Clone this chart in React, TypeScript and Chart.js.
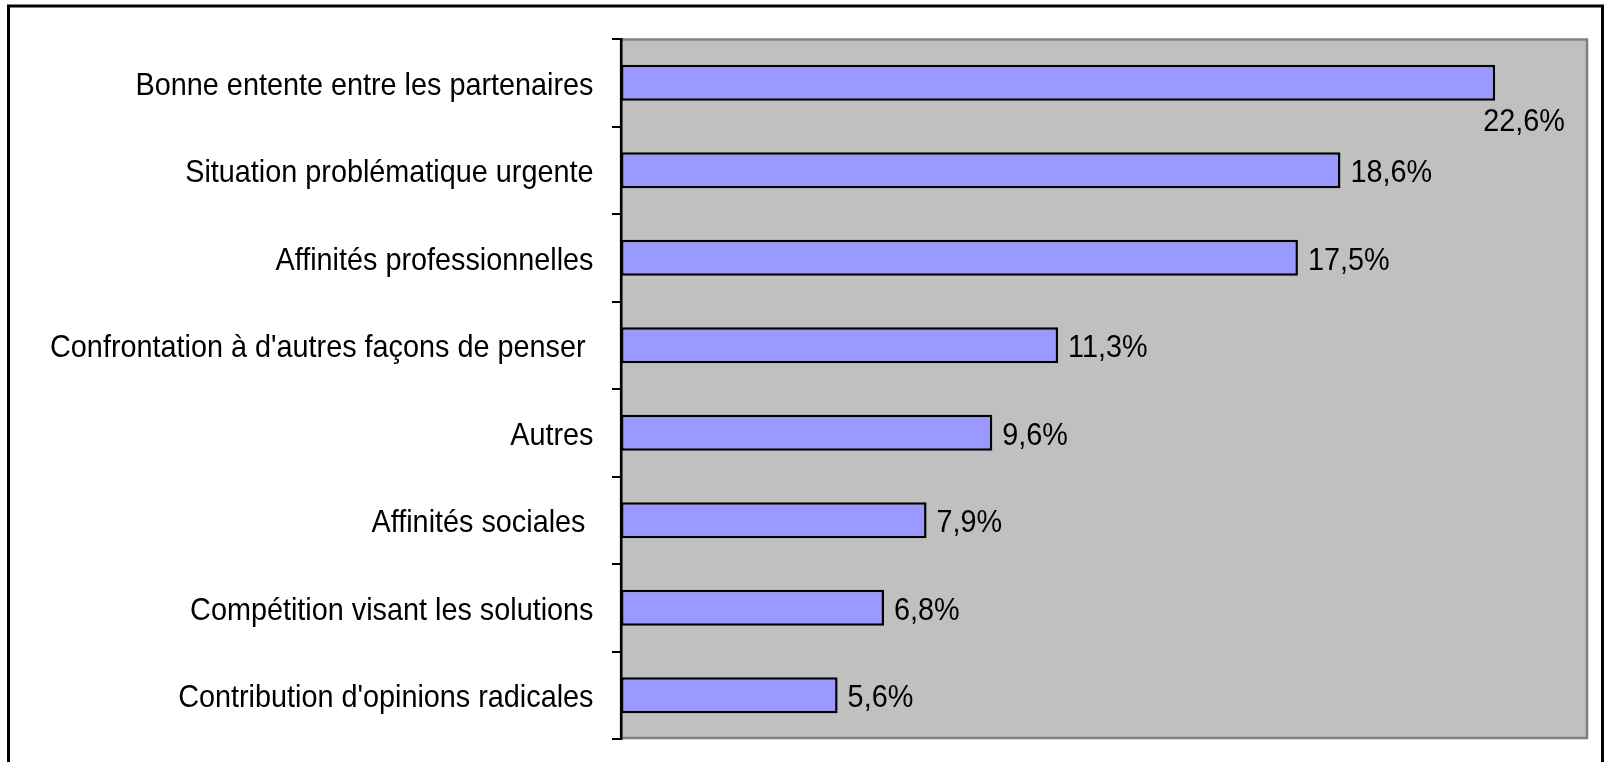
import React, { useEffect, useRef } from "react";
import { Chart, registerables } from "chart.js";

Chart.register(...registerables);

const categories = [
  "Bonne entente entre les partenaires",
  "Situation problématique urgente",
  "Affinités professionnelles",
  "Confrontation à d'autres façons de penser ",
  "Autres",
  "Affinités sociales ",
  "Compétition visant les solutions",
  "Contribution d'opinions radicales",
];
const values = [22.6, 18.6, 17.5, 11.3, 9.6, 7.9, 6.8, 5.6];
const valueLabels = ["22,6%", "18,6%", "17,5%", "11,3%", "9,6%", "7,9%", "6,8%", "5,6%"];
const xMin = 0;
const xMax = 25;

const FONT = "32px 'Liberation Sans', Arial, sans-serif";
const SX = 0.9;

const drawPlugin = {
  id: "customDraw",
  beforeDraw(chart: any) {
    const { ctx, chartArea } = chart;
    ctx.save();
    ctx.fillStyle = "#ffffff";
    ctx.fillRect(0, 0, chart.width, chart.height);
    ctx.fillStyle = "#C0C0C0";
    ctx.fillRect(chartArea.left, chartArea.top, chartArea.right - chartArea.left, chartArea.bottom - chartArea.top);
    ctx.strokeStyle = "#808080";
    ctx.lineWidth = 2.5;
    ctx.strokeRect(chartArea.left, chartArea.top + 0.5, chartArea.right - chartArea.left - 1, chartArea.bottom - chartArea.top - 1.5);
    ctx.restore();
  },
  afterDraw(chart: any) {
    const { ctx, chartArea } = chart;
    const yScale = chart.scales.y;
    ctx.save();
    ctx.font = FONT;
    ctx.fillStyle = "#000000";
    ctx.textBaseline = "alphabetic";
    // category labels
    categories.forEach((label, i) => {
      const y = yScale.getPixelForValue(i);
      const w = ctx.measureText(label).width * SX;
      const xRight = chartArea.left - 27.5;
      ctx.save();
      ctx.translate(xRight - w, y + 12);
      ctx.scale(SX, 1);
      ctx.fillText(label, 0, 0);
      ctx.restore();
    });
    // value labels
    const meta = chart.getDatasetMeta(0);
    meta.data.forEach((bar: any, i: number) => {
      const txt = valueLabels[i];
      const w = ctx.measureText(txt).width * SX;
      const end = bar.x;
      let tx = end + 10;
      let ty = bar.y + 12;
      if (tx + w > chartArea.right - 10) {
        tx = end - 12;
        ty = bar.y + 48;
      }
      ctx.save();
      ctx.translate(tx, ty);
      ctx.scale(SX, 1);
      ctx.fillText(txt, 0, 0);
      ctx.restore();
    });
    // outer border
    ctx.strokeStyle = "#000000";
    ctx.lineWidth = 3;
    ctx.strokeRect(8.5, 6, 1602.5 - 8.5, 800);
    ctx.restore();
  },
};

export default function App() {
  const ref = useRef<HTMLCanvasElement | null>(null);
  useEffect(() => {
    if (!ref.current) return;
    const chart = new Chart(ref.current, {
      type: "bar",
      data: {
        labels: categories,
        datasets: [
          {
            data: values,
            backgroundColor: "#9999FF",
            borderColor: "#000000",
            borderWidth: 2.5,
            borderSkipped: false,
            categoryPercentage: 1,
            barPercentage: 0.41,
          },
        ],
      },
      options: {
        indexAxis: "y",
        responsive: false,
        animation: false,
        devicePixelRatio: 1,
        layout: { padding: { top: 39, right: 22, bottom: 23, left: 0 } },
        plugins: { legend: { display: false }, tooltip: { enabled: false } },
        scales: {
          x: { display: false, min: xMin, max: xMax },
          y: {
            offset: true,
            grid: {
              offset: true,
              drawOnChartArea: false,
              drawTicks: true,
              tickLength: 9,
              color: "#000000",
              lineWidth: 2,
            },
            border: { display: true, color: "#000000", width: 2.5 },
            ticks: { display: false },
            afterFit: (scale: any) => {
              scale.width = 621;
            },
          },
        },
      },
      plugins: [drawPlugin],
    } as any);
    return () => chart.destroy();
  }, []);
  return (
    <div style={{ position: "absolute", left: 0, top: 0, width: 1610, height: 762 }}>
      <canvas ref={ref} width={1610} height={762} style={{ display: "block" }} />
    </div>
  );
}
